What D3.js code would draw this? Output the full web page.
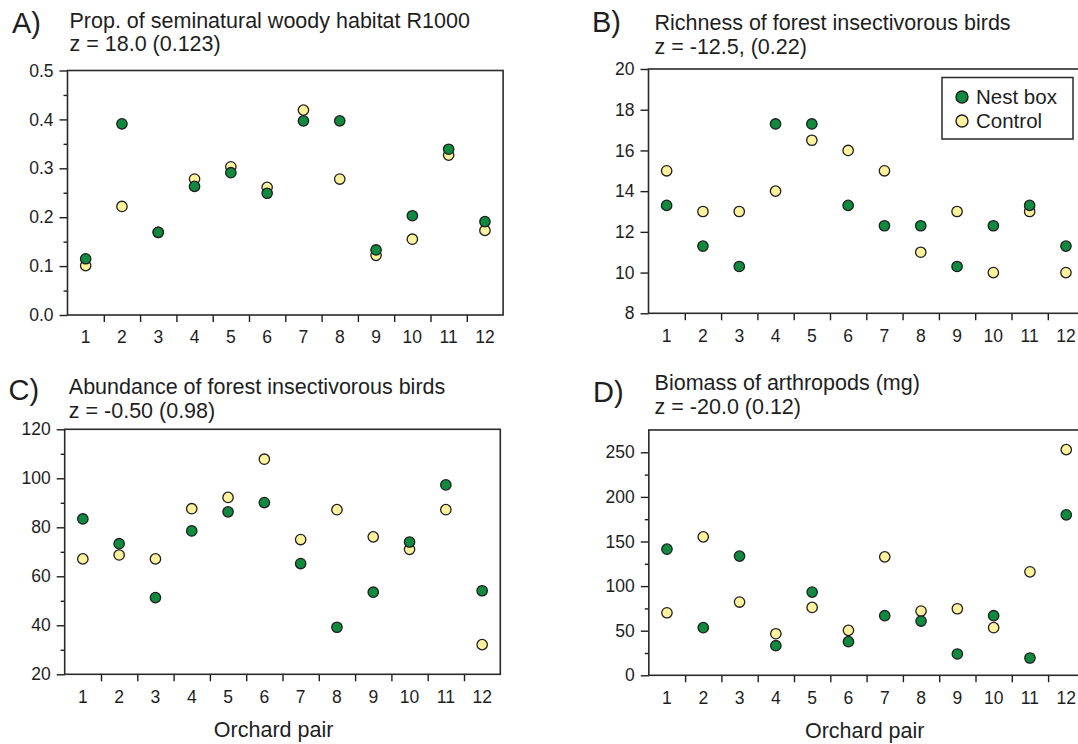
<!DOCTYPE html>
<html>
<head>
<meta charset="utf-8">
<script src="https://cdn.jsdelivr.net/npm/d3@7"></script>
<style>
  body { margin: 0; background: #fff; }
  svg { display: block; font-family: "Liberation Sans", Arial, sans-serif; }
</style>
</head>
<body>
<script>
const w = 1078;
const h = 744;

// orchard pairs on the x axis
const pairs = [1, 2, 3, 4, 5, 6, 7, 8, 9, 10, 11, 12];

// A) proportion of seminatural woody habitat
const habitatNest = [0.115, 0.391, 0.169, 0.263, 0.291, 0.249, 0.397, 0.397, 0.133, 0.203, 0.339, 0.191];
const habitatControl = [0.101, 0.222, 0.169, 0.278, 0.303, 0.261, 0.419, 0.278, 0.122, 0.155, 0.327, 0.173];

// B) richness of forest insectivorous birds
const richnessNest = [13.3, 11.3, 10.3, 17.3, 17.3, 13.3, 12.3, 12.3, 10.3, 12.3, 13.3, 11.3];
const richnessControl = [15, 13, 13, 14, 16.5, 16, 15, 11, 13, 10, 13, 10];

// C) abundance of forest insectivorous birds
const abundanceNest = [83.4, 73.3, 51.3, 78.5, 86.3, 90.1, 65.2, 39.2, 53.5, 74.0, 97.3, 54.1];
const abundanceControl = [67.1, 68.7, 67.1, 87.6, 92.2, 107.8, 75.0, 87.2, 76.1, 71.0, 87.2, 32.1];

// D) biomass of arthropods (mg)
const biomassNest = [141.4, 53.4, 133.6, 33.2, 93.3, 37.7, 66.8, 60.8, 23.9, 66.8, 19.4, 179.9];
const biomassControl = [70.1, 155.2, 82.1, 46.6, 76.1, 50.4, 132.8, 72.0, 74.6, 53.4, 116.0, 253.0];

// axis ticks
const habitatMajor = [0, 0.1, 0.2, 0.3, 0.4, 0.5];
const habitatMinor = [0.05, 0.15, 0.25, 0.35, 0.45];
const richnessMajor = [8, 10, 12, 14, 16, 18, 20];
const abundanceMajor = [20, 40, 60, 80, 100, 120];
const abundanceMinor = [30, 50, 70, 90, 110];
const biomassMajor = [0, 50, 100, 150, 200, 250];
const biomassMinor = [25, 75, 125, 175, 225];

const seriesNames = ['Nest box', 'Control'];
const greenFill = '#0f8a3e';
const yellowFill = '#fff29c';
const ink = '#1e1e1e';

const panels = [
	{ letter: 'A)', title: 'Prop. of seminatural woody habitat R1000', stat: 'z = 18.0 (0.123)',
		nest: habitatNest, control: habitatControl, domain: [0, 0.5],
		major: habitatMajor, minor: habitatMinor, fmt: d3.format('.1f'),
		left: 67.5, top: 70.5, bottom: 315, letterPos: [12, 33], titlePos: [69.5, 27.5], statY: 51 },
	{ letter: 'B)', title: 'Richness of forest insectivorous birds', stat: 'z = -12.5, (0.22)',
		nest: richnessNest, control: richnessControl, domain: [8, 20],
		major: richnessMajor, minor: [], fmt: d3.format('d'),
		left: 648.5, top: 69, bottom: 313.3, letterPos: [592, 32], titlePos: [654.5, 29.5], statY: 54, legend: true },
	{ letter: 'C)', title: 'Abundance of forest insectivorous birds', stat: 'z = -0.50 (0.98)',
		nest: abundanceNest, control: abundanceControl, domain: [20, 120],
		major: abundanceMajor, minor: abundanceMinor, fmt: d3.format('d'),
		left: 64.7, top: 429.3, bottom: 674.3, letterPos: [8.6, 400], titlePos: [68.8, 393.5], statY: 417.5, xTitle: [273.6, 737] },
	{ letter: 'D)', title: 'Biomass of arthropods (mg)', stat: 'z = -20.0 (0.12)',
		nest: biomassNest, control: biomassControl, domain: [0, 275],
		major: biomassMajor, minor: biomassMinor, fmt: d3.format('d'),
		left: 648.8, top: 430, bottom: 675.3, letterPos: [593, 401.7], titlePos: [654.6, 390], statY: 414, xTitle: [864.7, 738] }
];

const band = 36.3;

const svg = d3.select('body').append('svg')
	.attr('width', w)
	.attr('height', h);

function styleAxis(g) {
	g.select('.domain').remove();
	g.selectAll('line').attr('stroke', ink).attr('stroke-width', 1.4);
	g.selectAll('text')
		.attr('fill', ink)
		.style('font-size', '17.5px')
		.style('font-family', '"Liberation Sans", Arial, sans-serif');
}

panels.forEach(p => {
	const right = p.left + band * pairs.length;

	const x = d3.scaleBand()
		.domain(pairs)
		.range([p.left, right]);

	const xEdge = d3.scaleLinear()
		.domain([0.5, 12.5])
		.range([p.left, right]);

	const y = d3.scaleLinear()
		.domain(p.domain)
		.range([p.bottom, p.top]);

	const g = svg.append('g');

	// panel letter and titles
	g.append('text')
		.attr('x', p.letterPos[0])
		.attr('y', p.letterPos[1])
		.attr('fill', ink)
		.style('font-size', '29px')
		.text(p.letter);

	g.append('text')
		.attr('x', p.titlePos[0])
		.attr('y', p.titlePos[1])
		.attr('fill', ink)
		.style('font-size', '21.5px')
		.text(p.title);

	g.append('text')
		.attr('x', p.titlePos[0])
		.attr('y', p.statY)
		.attr('fill', ink)
		.style('font-size', '21.5px')
		.text(p.stat);

	// y axis: major and minor ticks
	g.append('g')
		.attr('transform', `translate(${p.left},0)`)
		.call(d3.axisLeft(y).tickValues(p.major).tickFormat(p.fmt).tickSize(8).tickPadding(6))
		.call(styleAxis);

	if (p.minor.length) {
		g.append('g')
			.attr('transform', `translate(${p.left},0)`)
			.call(d3.axisLeft(y).tickValues(p.minor).tickFormat('').tickSize(4))
			.call(styleAxis);
	}

	// x axis: ticks between pairs, labels at pair centres
	g.append('g')
		.attr('transform', `translate(0,${p.bottom})`)
		.call(d3.axisBottom(xEdge).tickValues(d3.range(1.5, 12, 1)).tickFormat('').tickSize(7))
		.call(styleAxis);

	g.append('g')
		.attr('transform', `translate(0,${p.bottom})`)
		.call(d3.axisBottom(x).tickSize(0).tickPadding(16))
		.call(styleAxis);

	// frame
	g.append('rect')
		.attr('x', p.left)
		.attr('y', p.top)
		.attr('width', right - p.left)
		.attr('height', p.bottom - p.top)
		.attr('fill', 'none')
		.attr('stroke', '#2a2a2a')
		.attr('stroke-width', 1.6);

	// points: control first, nest box on top
	g.append('g')
		.selectAll('circle')
		.data(p.control)
		.enter()
		.append('circle')
		.attr('cx', (d, i) => x(pairs[i]) + x.bandwidth() / 2)
		.attr('cy', d => y(d))
		.attr('r', 5.2)
		.attr('fill', yellowFill)
		.attr('stroke', ink)
		.attr('stroke-width', 1.3);

	g.append('g')
		.selectAll('circle')
		.data(p.nest)
		.enter()
		.append('circle')
		.attr('cx', (d, i) => x(pairs[i]) + x.bandwidth() / 2)
		.attr('cy', d => y(d))
		.attr('r', 5.2)
		.attr('fill', greenFill)
		.attr('stroke', ink)
		.attr('stroke-width', 1.3);

	if (p.xTitle) {
		g.append('text')
			.attr('x', p.xTitle[0])
			.attr('y', p.xTitle[1])
			.attr('text-anchor', 'middle')
			.attr('fill', ink)
			.style('font-size', '21.5px')
			.text('Orchard pair');
	}

	if (p.legend) {
		const legend = g.append('g')
			.attr('id', 'legend');

		legend.append('rect')
			.attr('x', 942)
			.attr('y', 77.5)
			.attr('width', 131)
			.attr('height', 61.5)
			.attr('fill', '#fff')
			.attr('stroke', '#2a2a2a')
			.attr('stroke-width', 1.5);

		const items = legend.selectAll('.item')
			.data(seriesNames)
			.enter()
			.append('g')
			.attr('class', 'item')
			.attr('transform', (d, i) => `translate(962,${97 + i * 24})`);

		items.append('circle')
			.attr('r', 6)
			.attr('fill', (d, i) => i === 0 ? greenFill : yellowFill)
			.attr('stroke', ink)
			.attr('stroke-width', 1.4);

		items.append('text')
			.attr('x', 14)
			.attr('y', 7)
			.attr('fill', ink)
			.style('font-size', '20.5px')
			.text(d => d);
	}
});
</script>
</body>
</html>
